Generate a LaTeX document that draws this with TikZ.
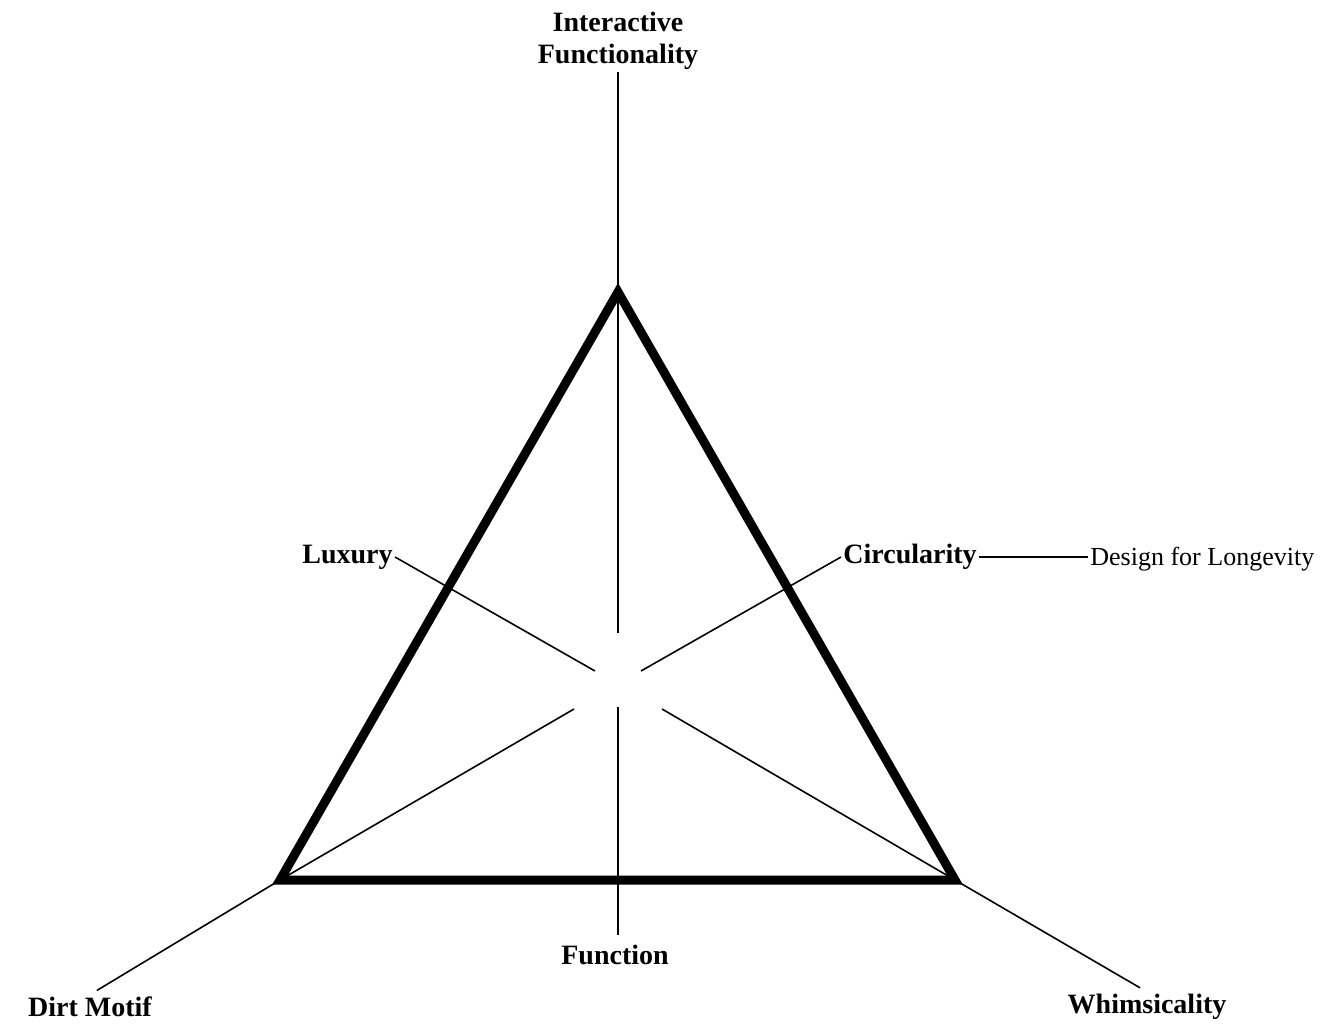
\documentclass[tikz,border=0pt]{standalone}
\usepackage{fontspec}
\setmainfont{Liberation Serif}
\begin{document}
\begin{tikzpicture}[x=0.5pt,y=-0.5pt,
    lbl/.style={font=\fontsize{14}{16}\selectfont\bfseries, inner sep=1pt},
    note/.style={font=\fontsize{13}{16}\selectfont, inner sep=1pt},
    spoke/.style={line width=0.8pt},
    frame/.style={line width=4.5pt, line join=miter}]
    \useasboundingbox (0,0) rectangle (1338,1023);
    % corners of the triangle
    \coordinate (top) at (618,292);
    \coordinate (bl) at (280,880);
    \coordinate (br) at (955,880);
    % inner ends of the spokes
    \coordinate (cn) at (618,633);
    \coordinate (cs) at (618,707);
    \coordinate (cnw) at (595,671);
    \coordinate (cne) at (641,671);
    \coordinate (csw) at (574,709);
    \coordinate (cse) at (662,709);
    % labels
    \node[lbl, align=center] (inter) at (618,41) {Interactive\\Functionality};
    \node[lbl, anchor=east] (lux) at (395,557) {Luxury};
    \node[lbl, anchor=west] (circ) at (841,557) {Circularity};
    \node[note, anchor=west] (longev) at (1088,559) {Design for Longevity};
    \node[lbl] (func) at (615,955) {Function};
    \node[lbl] (dirt) at (90,1007) {Dirt Motif};
    \node[lbl] (whim) at (1147,1007) {Whimsicality};
    % spokes
    \draw[spoke] (cn) -- (cn |- inter.south);
    \draw[spoke, shorten >=4pt] (cs) -- (cs |- func.north);
    \draw[spoke] (lux.east) -- (cnw);
    \draw[spoke] (circ.west) -- (cne);
    \draw[spoke] (circ.east) -- (circ.east -| longev.west);
    \draw[spoke, shorten >=4pt] (csw) -- (bl) -- (dirt.north);
    \draw[spoke, shorten >=4pt] (cse) -- (br) -- (whim.north);
    % triangle
    \draw[frame] (top) -- (bl) -- (br) -- cycle;
\end{tikzpicture}
\end{document}
